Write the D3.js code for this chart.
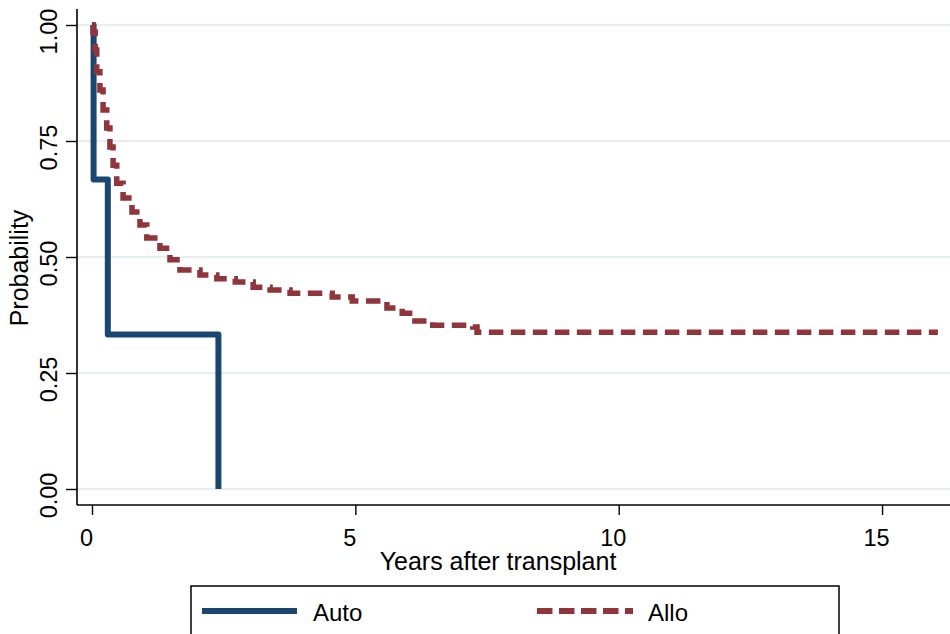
<!DOCTYPE html>
<html>
<head>
<meta charset="utf-8">
<script src="https://cdn.jsdelivr.net/npm/d3@7/dist/d3.min.js"></script>
<style>
  html, body { margin: 0; padding: 0; background: #ffffff; }
  svg { display: block; }
  text { font-family: "Liberation Sans", Arial, Helvetica, sans-serif; fill: #000; }
</style>
</head>
<body>
<svg id="chart" width="950" height="634"></svg>
<script>
// ---- Data ----
const seriesNames = ["Auto", "Allo"];

const autoTime = [0, 0.03, 0.30, 2.40];
const autoSurv = [1.0, 0.667, 0.333, 0.0];

const alloTime = [0, 0.02, 0.06, 0.09, 0.15, 0.21, 0.28, 0.34, 0.40, 0.47, 0.59, 0.70, 0.76,
  0.91, 1.04, 1.29, 1.48, 1.67, 2.05, 2.37, 2.72, 3.06, 3.38, 3.76, 4.56, 4.94,
  5.60, 5.89, 6.13, 6.47, 7.23, 7.31, 16.06];
const alloSurv = [1.0, 0.985, 0.946, 0.899, 0.860, 0.817, 0.778, 0.737, 0.698, 0.659, 0.627, 0.606, 0.597,
  0.569, 0.541, 0.519, 0.494, 0.472, 0.461, 0.453, 0.446, 0.435, 0.429, 0.422, 0.414, 0.405,
  0.390, 0.379, 0.362, 0.353, 0.349, 0.338, 0.338];

const xTicks = [0, 5, 10, 15];
const yTicks = [0, 0.25, 0.5, 0.75, 1.0];
const yTickLabels = ["0.00", "0.25", "0.50", "0.75", "1.00"];
const xTitle = "Years after transplant";
const yTitle = "Probability";

// ---- Layout ----
const svg = d3.select("#chart");
const plotLeft = 77, plotRight = 950, plotTop = 9, plotBottom = 505;

const x = d3.scaleLinear().domain([-0.285, 16.29]).range([plotLeft, plotRight]);
const y = d3.scaleLinear().domain([-0.0345, 1.0345]).range([plotBottom, plotTop]);

const colors = { Auto: "#1a476f", Allo: "#90353b" };

// gridlines
svg.append("g").selectAll("line").data(yTicks).join("line")
  .attr("x1", plotLeft + 1).attr("x2", plotRight)
  .attr("y1", d => y(d)).attr("y2", d => y(d))
  .attr("stroke", "#e6eff1").attr("stroke-width", 2);

// y axis
const yAxis = d3.axisLeft(y).tickValues(yTicks).tickSize(11).tickFormat((d, i) => yTickLabels[i]);
const gy = svg.append("g").attr("transform", `translate(${plotLeft},0)`).call(yAxis);
gy.select(".domain").attr("d", `M0,${plotTop}V${plotBottom}`).attr("stroke", "#000").attr("stroke-width", 1.6);
gy.selectAll(".tick line").attr("stroke", "#000").attr("stroke-width", 1.4);
gy.selectAll(".tick text")
  .attr("x", null).attr("dy", null)
  .attr("text-anchor", "middle")
  .attr("transform", "translate(-20,6) rotate(-90)")
  .style("font-size", "23.5px")
  .style("font-family", '"Liberation Sans", Arial, sans-serif');

// x axis
const xAxis = d3.axisBottom(x).tickValues(xTicks).tickSize(10).tickFormat(d3.format("d"));
const gx = svg.append("g").attr("transform", `translate(0,${plotBottom})`).call(xAxis);
gx.select(".domain").attr("d", `M${plotLeft},0H${plotRight}`).attr("stroke", "#000").attr("stroke-width", 1.6);
gx.selectAll(".tick line").attr("stroke", "#000").attr("stroke-width", 1.4);
gx.selectAll(".tick text")
  .attr("y", 41).attr("dy", null).attr("x", -6)
  .style("font-size", "23.5px")
  .style("font-family", '"Liberation Sans", Arial, sans-serif');

// axis titles
svg.append("text").attr("x", 498).attr("y", 570).attr("text-anchor", "middle")
  .style("font-size", "25px").text(xTitle);
svg.append("text").attr("transform", "translate(28,268) rotate(-90)").attr("text-anchor", "middle")
  .style("font-size", "25px").text(yTitle);

// curves
const line = d3.line().x(d => x(d[0])).y(d => y(d[1])).curve(d3.curveStepAfter);
const autoData = autoTime.map((t, i) => [t, autoSurv[i]]);
const alloData = alloTime.map((t, i) => [t, alloSurv[i]]);

svg.append("path").datum(autoData).attr("d", line)
  .attr("fill", "none").attr("stroke", colors.Auto).attr("stroke-width", 6)
  .attr("stroke-linejoin", "round");
svg.append("path").datum(alloData).attr("d", line)
  .attr("fill", "none").attr("stroke", colors.Allo).attr("stroke-width", 5.5)
  .attr("stroke-dasharray", "14.5,7.5").attr("stroke-linejoin", "miter");

// legend
const lg = svg.append("g");
lg.append("rect").attr("x", 191).attr("y", 586).attr("width", 648).attr("height", 70)
  .attr("fill", "#fff").attr("stroke", "#000").attr("stroke-width", 1.5);
const legendItems = [
  { name: seriesNames[0], x1: 202, x2: 297, tx: 313, dash: null },
  { name: seriesNames[1], x1: 537, x2: 633, tx: 648, dash: "15.5,6.5" }
];
legendItems.forEach(it => {
  lg.append("line").attr("x1", it.x1).attr("x2", it.x2).attr("y1", 611).attr("y2", 611)
    .attr("stroke", colors[it.name]).attr("stroke-width", 6)
    .attr("stroke-dasharray", it.dash);
  lg.append("text").attr("x", it.tx).attr("y", 621).style("font-size", "24px").text(it.name);
});
</script>
</body>
</html>
